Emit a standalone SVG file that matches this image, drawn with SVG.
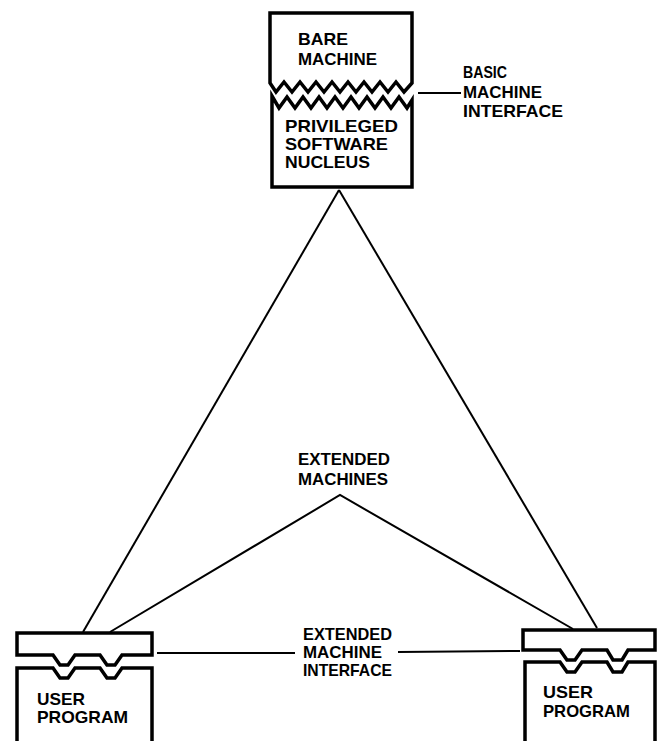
<svg xmlns="http://www.w3.org/2000/svg" width="660" height="741" viewBox="0 0 660 741">
<style>
.box{fill:#fff;stroke:#000;stroke-width:3.5;stroke-linejoin:miter}
.ln{stroke:#000;stroke-width:2;fill:none}
text{font-family:"Liberation Sans",Arial,sans-serif;font-weight:bold;font-size:17px;fill:#000}
</style>
<rect width="660" height="741" fill="#fff"/>
<g id="connectors">
<line class="ln" x1="339" y1="190" x2="83" y2="632"/>
<line class="ln" x1="339" y1="190" x2="597" y2="628"/>
<polyline class="ln" points="110,632 340,495 573,629"/>
<line class="ln" x1="418" y1="93" x2="461" y2="93"/>
<line class="ln" x1="157" y1="653" x2="295" y2="653"/>
<line class="ln" x1="398" y1="652" x2="520" y2="651"/>
</g>
<g id="bare-machine">
<path class="box" d="M270,83 V13 H412 V83 L404,92 L396,82 L388,92 L380,82 L372,92 L364,82 L356,92 L348,82 L340,92 L332,82 L324,92 L316,82 L308,92 L300,82 L292,92 L284,82 L276,92 Z"/>
<text x="298" y="45" textLength="50" lengthAdjust="spacingAndGlyphs">BARE</text>
<text x="298" y="65" textLength="79" lengthAdjust="spacingAndGlyphs">MACHINE</text>
</g>
<g id="nucleus">
<path class="box" d="M272,187 V96 L279,108 L287,97 L295,108 L303,97 L311,108 L319,97 L327,108 L335,97 L343,108 L351,97 L359,108 L367,97 L375,108 L383,97 L391,108 L399,97 L407,108 L412,100 V187 Z"/>
<text x="285" y="132" font-size="18" textLength="113" lengthAdjust="spacingAndGlyphs">PRIVILEGED</text>
<text x="285" y="150" font-size="18" textLength="103" lengthAdjust="spacingAndGlyphs">SOFTWARE</text>
<text x="285" y="168" font-size="18" textLength="85" lengthAdjust="spacingAndGlyphs">NUCLEUS</text>
</g>
<g id="basic-interface-label">
<text x="463" y="78" font-size="16" textLength="44" lengthAdjust="spacingAndGlyphs">BASIC</text>
<text x="463" y="98" font-size="16" textLength="79" lengthAdjust="spacingAndGlyphs">MACHINE</text>
<text x="463" y="117" font-size="16" textLength="100" lengthAdjust="spacingAndGlyphs">INTERFACE</text>
</g>
<g id="extended-machines-label">
<text x="298" y="465" font-size="17" textLength="92" lengthAdjust="spacingAndGlyphs">EXTENDED</text>
<text x="298" y="485" font-size="17" textLength="90" lengthAdjust="spacingAndGlyphs">MACHINES</text>
</g>
<g id="extended-interface-label">
<text x="303" y="640" font-size="15" textLength="89" lengthAdjust="spacingAndGlyphs">EXTENDED</text>
<text x="303" y="658" font-size="15" textLength="79" lengthAdjust="spacingAndGlyphs">MACHINE</text>
<text x="303" y="676" font-size="15" textLength="89" lengthAdjust="spacingAndGlyphs">INTERFACE</text>
</g>
<g id="user-program-left">
<path class="box" d="M17,655 V633 H152 V655 H122 L115,665 H107 L100,655 H75 L68,665 H60 L53,655 Z"/>
<path class="box" d="M17,745 V668 H53 L60,678 H68 L75,668 H100 L107,678 H115 L122,668 H152 V745"/>
<text x="37" y="705" font-size="18" textLength="48" lengthAdjust="spacingAndGlyphs">USER</text>
<text x="37" y="723" font-size="18" textLength="91" lengthAdjust="spacingAndGlyphs">PROGRAM</text>
</g>
<g id="user-program-right">
<path class="box" d="M523,650 V630 H655 V650 H628 L622,660 H613 L607,650 H582 L575,660 H567 L560,650 Z"/>
<path class="box" d="M525,745 V662 H560 L567,672 H575 L582,662 H607 L613,672 H622 L628,662 H655 V745"/>
<text x="543" y="698" font-size="18" textLength="50" lengthAdjust="spacingAndGlyphs">USER</text>
<text x="543" y="717" font-size="18" textLength="87" lengthAdjust="spacingAndGlyphs">PROGRAM</text>
</g>
</svg>
